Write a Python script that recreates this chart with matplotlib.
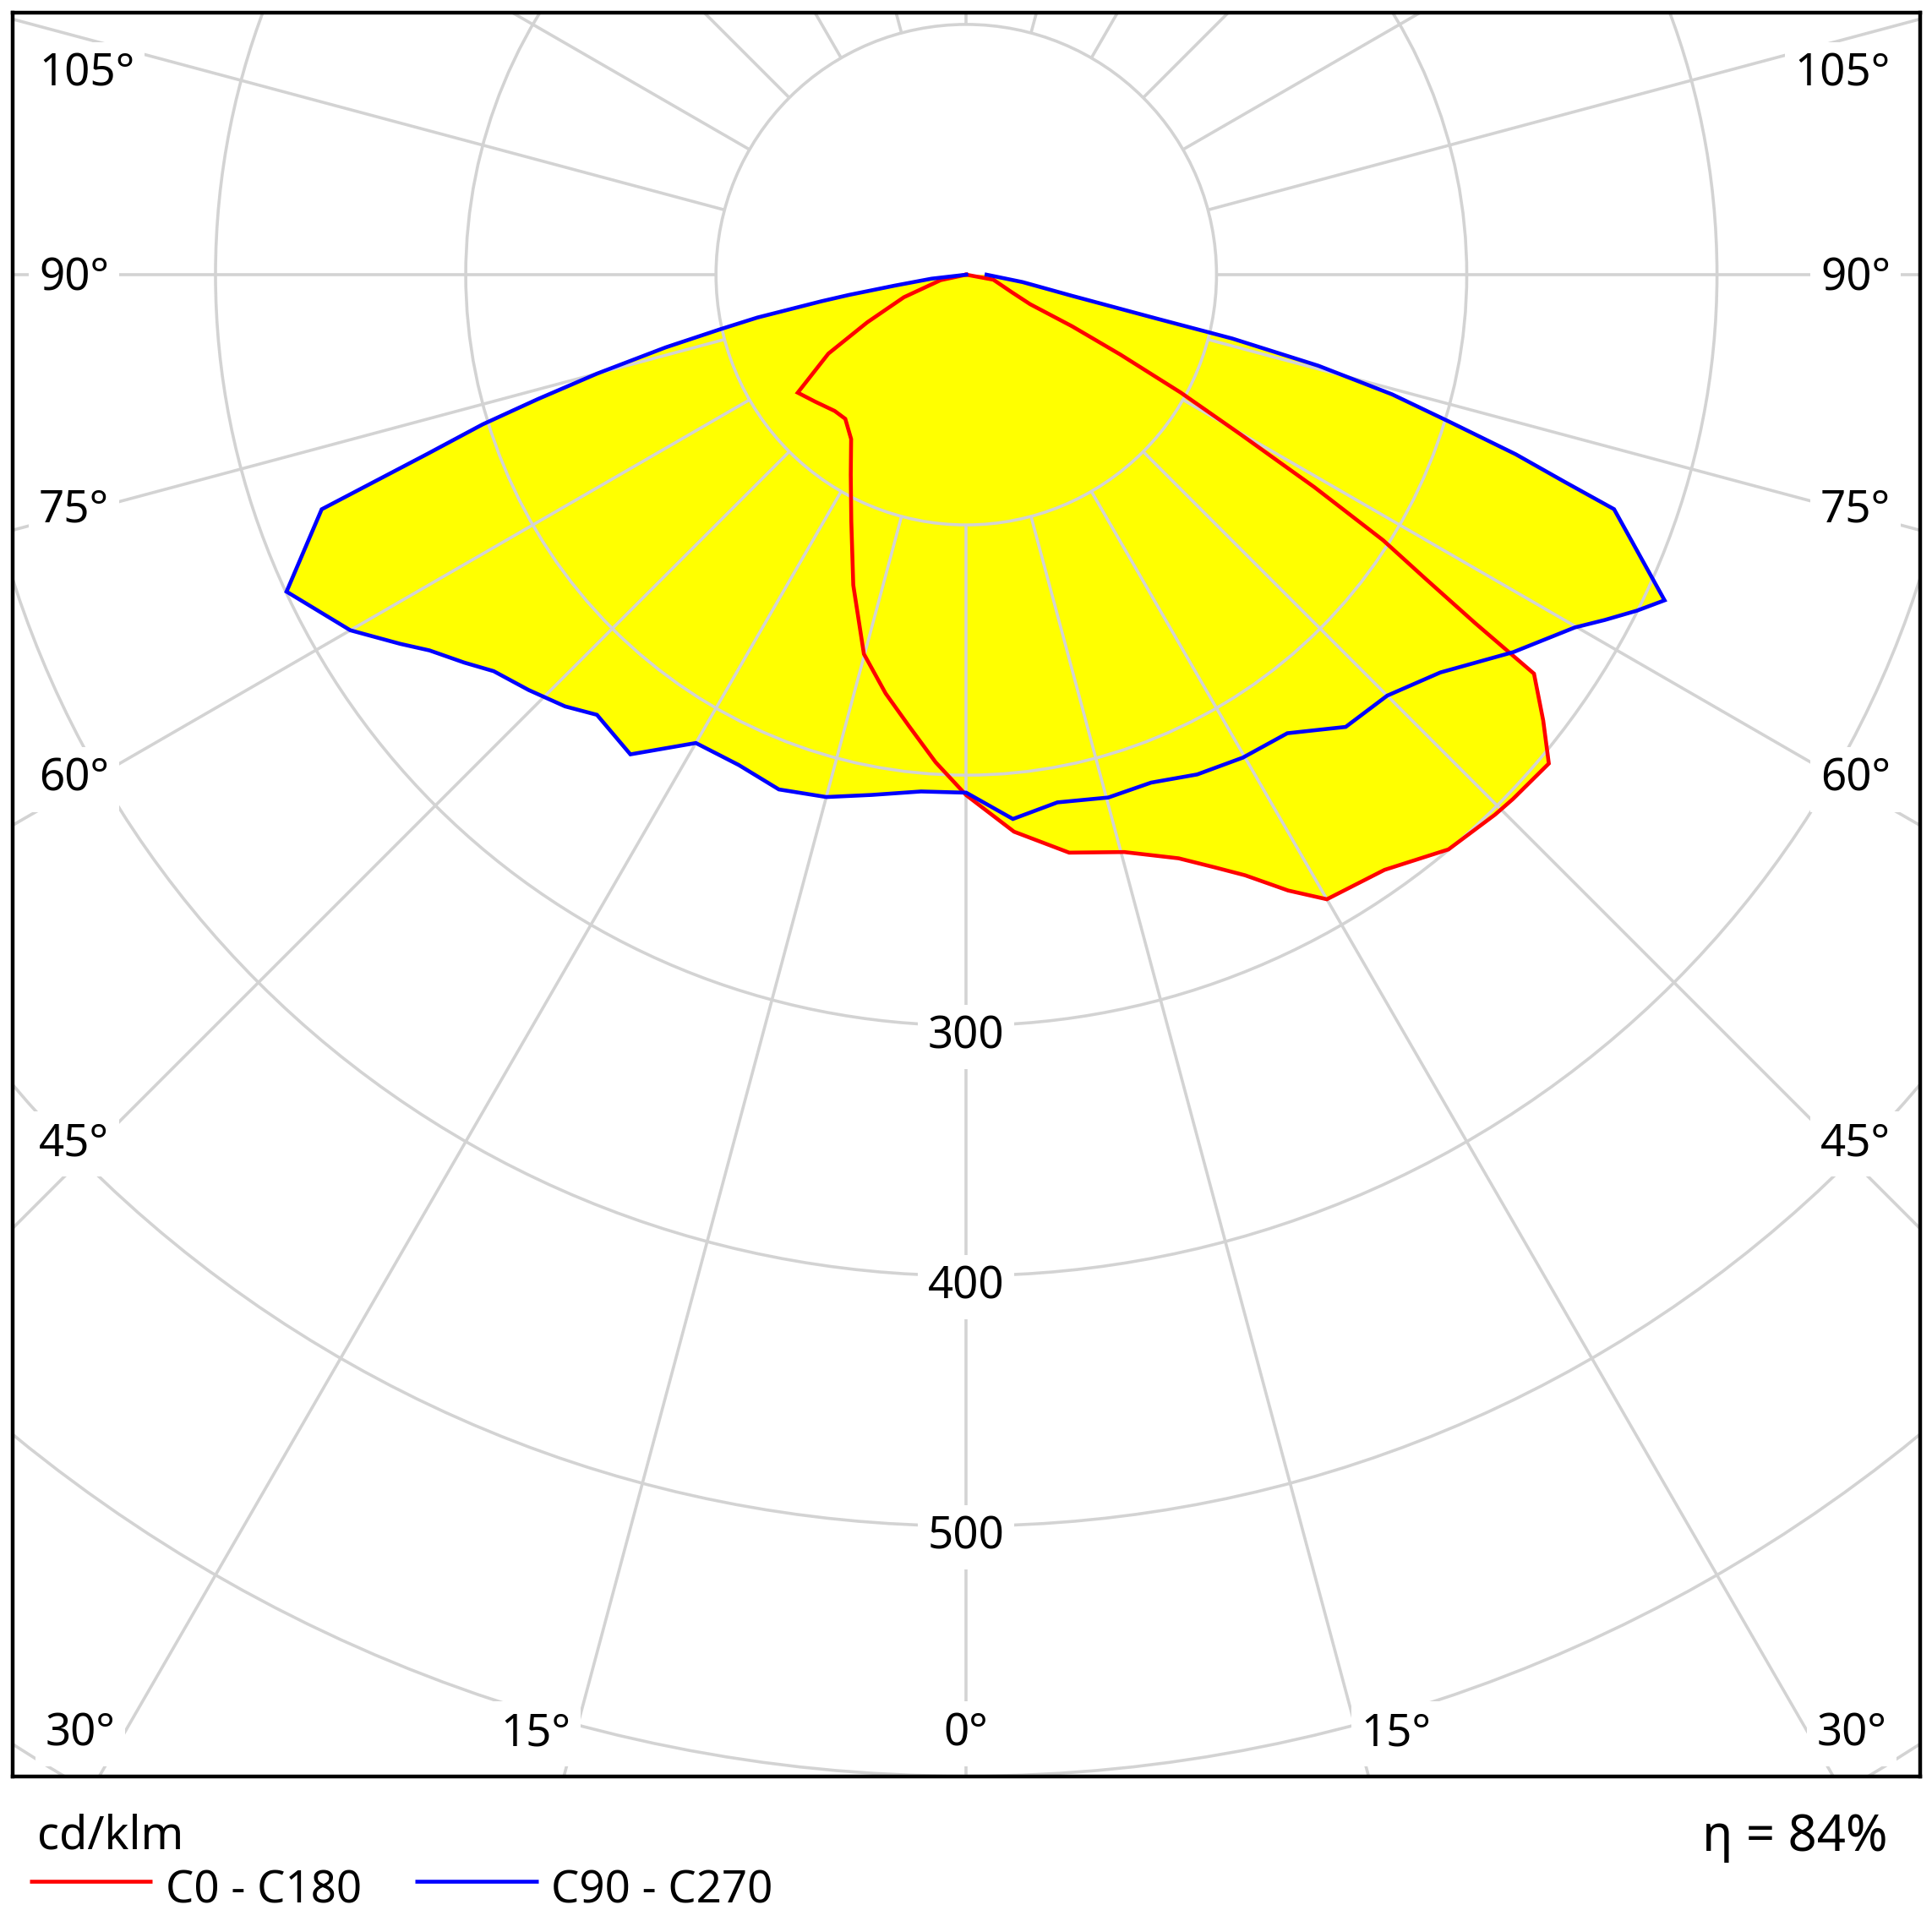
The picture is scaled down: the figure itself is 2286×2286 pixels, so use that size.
import numpy as np
import matplotlib
matplotlib.use("Agg")
import matplotlib.pyplot as plt
from matplotlib.patches import Circle

# ---------------- data (cd/klm vs. gamma in degrees from nadir) ----------------
c0_gamma = [0, 4.9, 10.1, 15.3, 20, 22.8, 24.9, 27.6, 30, 35.1, 40, 44.4, 46.2, 50,
            52.3, 54.9, 55.6, 56.5, 57.5, 58.6, 59.8, 61.2, 62.6, 64.0, 65.2, 69, 79.5, 90]
c0_cd = [208, 223.4, 234.6, 239.2, 248.2, 257, 264.6, 277.7, 288.2, 290.7, 299.8, 302,
         302.7, 303.9, 291.4, 277.3, 246.5, 219.9, 197.5, 163, 126.8, 97.8, 69.3,
         47.1, 28.1, 19.4, 11, 0]

c180_gamma = [0, 3.6, 7.3, 10.9, 15.1, 20, 25, 30, 35, 40, 44, 50, 55, 60.2, 64.3,
              70.1, 77.9, 90]
c180_cd = [208, 195.2, 181.6, 170.4, 157, 132, 108.7, 92.3, 80.2, 75.2, 75.7, 78.9,
           82.2, 63.5, 43.9, 26.5, 10.5, 0]

c90_gamma = [0, 4.9, 9.8, 15.2, 20, 24.8, 29.8, 35, 40, 45, 50, 55.4, 59.9, 61.6,
             63.4, 65, 70.1, 70.9, 71.9, 73.1, 74.3, 75.5, 76.5, 77.0, 78.7, 82.5, 90]
c90_cd = [207, 218.3, 214, 216.5, 216, 220, 222.4, 223.7, 235.9, 237.9, 247.3, 265.6,
          281.1, 290.1, 299.8, 307.9, 275.3, 253.1, 231, 201.1, 176.8, 145.3, 109.3,
          78.7, 43, 22.7, 8.1]

c270_gamma = [0, 5, 10.3, 15, 20, 24.9, 30, 35, 40, 42.9, 46.5, 50, 52.3, 55, 56.9,
              60, 65, 70, 71.6, 72.8, 73.8, 75, 76.4, 77.5, 78.4, 79.6, 80.2, 81.3,
              83.4, 90]
c270_cd = [207, 207.3, 211.3, 216.1, 218.9, 216, 216.1, 234, 229.6, 235.5, 241.1,
           246.5, 253.5, 261.8, 270.1, 284.2, 299.7, 274.1, 227, 202.3, 178.4, 152.7,
           123.6, 100.5, 85.2, 58.8, 47.6, 28.9, 14, 0]

grid_radii = [100, 200, 300, 400, 500, 600, 700, 800, 900]
spoke_angles = list(range(0, 360, 15))
side_labels = ["105°", "90°", "75°", "60°", "45°"]
bottom_labels = ["30°", "15°", "0°", "15°", "30°"]
radial_labels = [300, 400, 500]
unit_label = "cd/klm"
efficiency_label = "η = 84%"
series_names = ["C0 - C180", "C90 - C270"]
series_colors = ["#ff0000", "#0000ff"]

# ---------------- layout (pixels of the 2286 px image) ----------------
W = 2286
DPI = 100
CX, CY, S = 1143.3, 325.0, 2.961          # centre and px per cd/klm
L, R, T, B = 15, 2272, 15, 2102           # frame
FONT = ["Noto Sans", "DejaVu Sans"]
GRID = "#d3d3d3"

fig = plt.figure(figsize=(W / DPI, W / DPI), dpi=DPI)
ax = fig.add_axes([L / W, 1 - B / W, (R - L) / W, (B - T) / W])
ax.set_xlim((L - CX) / S, (R - CX) / S)
ax.set_ylim((CY - B) / S, (CY - T) / S)
ax.set_xticks([])
ax.set_yticks([])
for sp in ax.spines.values():
    sp.set_linewidth(3.2)
    sp.set_color("black")
    sp.set_zorder(10)


def to_xy(gamma, cd, side):
    g = np.radians(np.asarray(gamma, dtype=float))
    r = np.asarray(cd, dtype=float)
    return side * r * np.sin(g), -r * np.cos(g)


def loop(g_left, i_left, g_right, i_right):
    xl, yl = to_xy(g_left, i_left, -1)
    xr, yr = to_xy(g_right, i_right, 1)
    return np.concatenate([xl[::-1], xr]), np.concatenate([yl[::-1], yr])


red_x, red_y = loop(c180_gamma, c180_cd, c0_gamma, c0_cd)
blue_x, blue_y = loop(c270_gamma, c270_cd, c90_gamma, c90_cd)

# yellow fill (union of both curves)
ax.fill(red_x, red_y, color="#ffff00", lw=0, zorder=1)
ax.fill(blue_x, blue_y, color="#ffff00", lw=0, zorder=1)

# grid
for rr in grid_radii:
    ax.add_patch(Circle((0, 0), rr, fill=False, ec=GRID, lw=2.6, zorder=2))
for a in spoke_angles:
    t = np.radians(a)
    ax.plot([100 * np.sin(t), 1200 * np.sin(t)], [-100 * np.cos(t), -1200 * np.cos(t)],
            color=GRID, lw=2.6, zorder=2, solid_capstyle="butt")

# curves
ax.plot(red_x, red_y, color=series_colors[0], lw=3.3, zorder=4, solid_joinstyle="miter")
ax.plot(blue_x, blue_y, color=series_colors[1], lw=3.3, zorder=4, solid_joinstyle="miter")

# ---------------- overlay for labels (pixel coordinates) ----------------
ov = fig.add_axes([0, 0, 1, 1])
ov.set_xlim(0, W)
ov.set_ylim(W, 0)
ov.axis("off")
ov.patch.set_alpha(0)

box = dict(boxstyle="square,pad=0.22", fc="white", ec="none")
lab_fs = 38

side_baselines = [102, 343, 618, 936, 1367]
for txt, yb in zip(side_labels, side_baselines):
    ov.text(46, yb, txt, ha="left", va="baseline", fontsize=lab_fs, family=FONT, bbox=box)
    ov.text(2237, yb, txt, ha="right", va="baseline", fontsize=lab_fs, family=FONT, bbox=box)

bottom_x = [95, 634, 1143, 1652, 2191]
for txt, xb in zip(bottom_labels, bottom_x):
    ov.text(xb, 2065, txt, ha="center", va="baseline", fontsize=lab_fs, family=FONT, bbox=box)

for rv in radial_labels:
    ov.text(CX, CY + rv * S + 27, str(rv), ha="center", va="baseline", fontsize=lab_fs,
            family=FONT, bbox=box)

# bottom annotations and legend
ov.text(44, 2188, unit_label, ha="left", va="baseline", fontsize=39, family=FONT)
ov.text(2234, 2190, efficiency_label, ha="right", va="baseline", fontsize=43, family=FONT)

leg_line_x = [(35, 180), (491, 637)]
leg_text_x = [196, 652]
for name, col, (x0, x1), xt in zip(series_names, series_colors, leg_line_x, leg_text_x):
    ov.plot([x0, x1], [2226, 2226], color=col, lw=3.3, solid_capstyle="butt")
    ov.text(xt, 2252, name, ha="left", va="baseline", fontsize=lab_fs, family=FONT)

fig.savefig("out.png", dpi=DPI, facecolor="white")
